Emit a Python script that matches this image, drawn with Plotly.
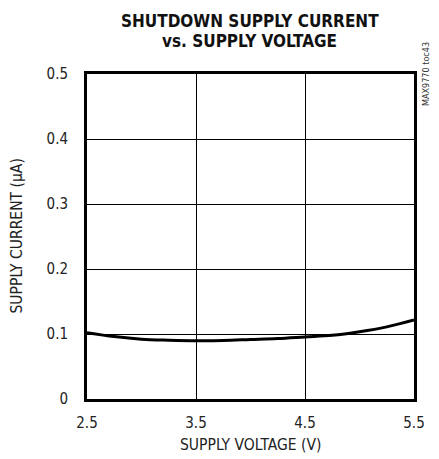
import plotly.graph_objects as go

# Shutdown supply current vs. supply voltage
supply_voltage = [2.5, 2.75, 3.0, 3.25, 3.5, 3.75, 4.0, 4.25, 4.5, 4.75, 5.0, 5.25, 5.5]
supply_current = [0.102, 0.096, 0.092, 0.0905, 0.0897, 0.090, 0.0915, 0.093,
                  0.0955, 0.098, 0.1035, 0.111, 0.1215]

x_ticks = [2.5, 3.5, 4.5, 5.5]
x_tick_text = ["2.5", "3.5", "4.5", "5.5"]
y_ticks = [0, 0.1, 0.2, 0.3, 0.4, 0.5]
y_tick_text = ["0", "0.1", "0.2", "0.3", "0.4", "0.5"]

narrow = "DejaVu Sans Condensed, Liberation Sans Narrow, Arial Narrow, sans-serif"

fig = go.Figure()
fig.add_trace(go.Scatter(
    x=supply_voltage, y=supply_current, mode="lines",
    line=dict(color="black", width=3, shape="spline"),
    showlegend=False, hoverinfo="skip",
))

axis_common = dict(
    showline=True, linecolor="black", linewidth=3, mirror=True,
    showgrid=True, gridcolor="black", gridwidth=1,
    zeroline=False, ticks="outside", tickcolor="rgba(0,0,0,0)",
    tickfont=dict(family=narrow, size=15, color="#222"),
    automargin=False,
)

fig.update_layout(
    width=439, height=459,
    margin=dict(l=87, r=25, t=74, b=60),
    paper_bgcolor="white", plot_bgcolor="white",
    xaxis=dict(
        range=[2.5, 5.5], tickvals=x_ticks, ticktext=x_tick_text, ticklen=8,
        **axis_common,
    ),
    yaxis=dict(
        range=[0, 0.5], tickvals=y_ticks, ticktext=y_tick_text, ticklen=13,
        **axis_common,
    ),
    annotations=[
        dict(
            text="<b>SHUTDOWN SUPPLY CURRENT</b>", showarrow=False,
            xref="paper", yref="paper", x=0.497, y=1.0, xanchor="center", yanchor="middle",
            yshift=53, font=dict(family=narrow, size=17, color="#111"),
        ),
        dict(
            text="<b>vs. SUPPLY VOLTAGE</b>", showarrow=False,
            xref="paper", yref="paper", x=0.497, y=1.0, xanchor="center", yanchor="middle",
            yshift=33, font=dict(family=narrow, size=17, color="#111"),
        ),
        dict(
            text="SUPPLY VOLTAGE (V)", showarrow=False,
            xref="paper", yref="paper", x=0.5, y=0.0, xanchor="center", yanchor="middle",
            yshift=-46, font=dict(family=narrow, size=15.5, color="#222"),
        ),
        dict(
            text="SUPPLY CURRENT (μA)", textangle=-90, showarrow=False,
            xref="paper", yref="paper", x=0.0, y=0.5, xanchor="center", yanchor="middle",
            xshift=-71, font=dict(family=narrow, size=15.5, color="#222"),
        ),
        dict(
            text="MAX9770 toc43", textangle=-90, showarrow=False,
            xref="paper", yref="paper", x=1.0, y=1.0, xanchor="left", yanchor="top",
            xshift=5, yshift=34,
            font=dict(family=narrow, size=9, color="#333"),
        ),
    ],
)

fig.write_html("out.html")
